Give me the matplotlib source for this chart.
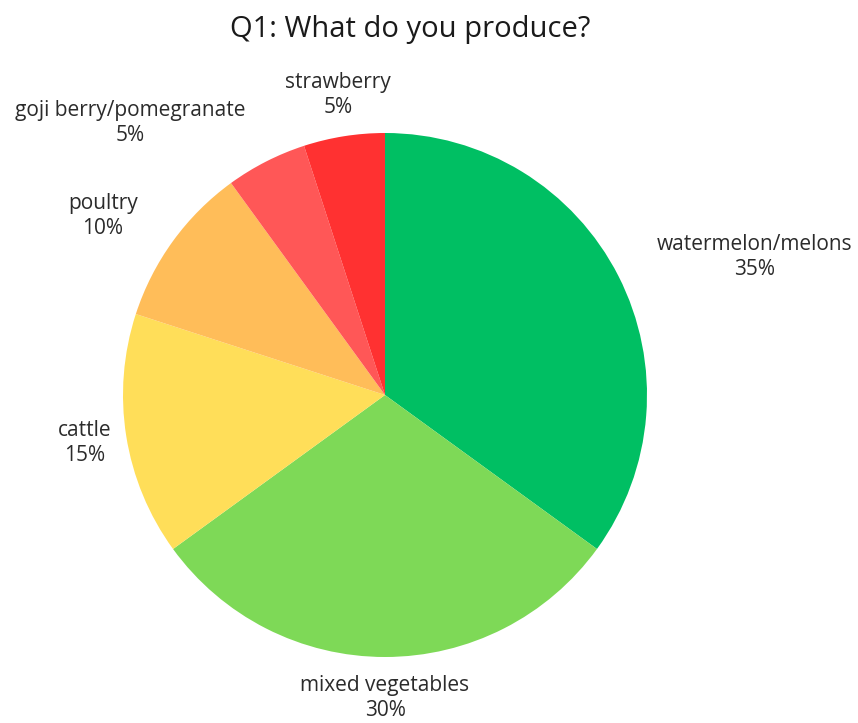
import matplotlib
matplotlib.use("Agg")
import matplotlib.pyplot as plt

# Survey answers: share of respondents by product
categories = ["watermelon/melons", "mixed vegetables", "cattle", "poultry",
              "goji berry/pomegranate", "strawberry"]
shares = [35, 30, 15, 10, 5, 5]
colors = ["#00BF63", "#7ED957", "#FFDE59", "#FFBD59", "#FF5757", "#FF3131"]
title = "Q1: What do you produce?"

# Label anchor points in figure pixels (x, y from top)
label_pos = [(755, 257), (385, 698), (85, 443), (103, 216), (130, 123), (338, 95)]

W, H = 858, 723
plt.rcParams["font.family"] = ["Open Sans", "DejaVu Sans"]
fig = plt.figure(figsize=(W / 100, H / 100), dpi=100)
fig.patch.set_facecolor("white")

cx, cy, r = 385, 395, 262
ax = fig.add_axes([(cx - r) / W, (H - cy - r) / H, 2 * r / W, 2 * r / H])
ax.pie(shares, colors=colors, startangle=90, counterclock=False,
       wedgeprops=dict(edgecolor="none", linewidth=0))
ax.set_aspect("equal")
ax.set_xlim(-1, 1)
ax.set_ylim(-1, 1)
ax.axis("off")

for name, val, (px, py) in zip(categories, shares, label_pos):
    fig.text(px / W, 1 - py / H, f"{name}\n{val}%", ha="center", va="center",
             fontsize=15, color="#2b2b2b", linespacing=1.3)

fig.text(410 / W, 1 - 29 / H, title, ha="center", va="center",
         fontsize=21, color="#1a1a1a")

fig.savefig("out.png", dpi=100, facecolor="white")
